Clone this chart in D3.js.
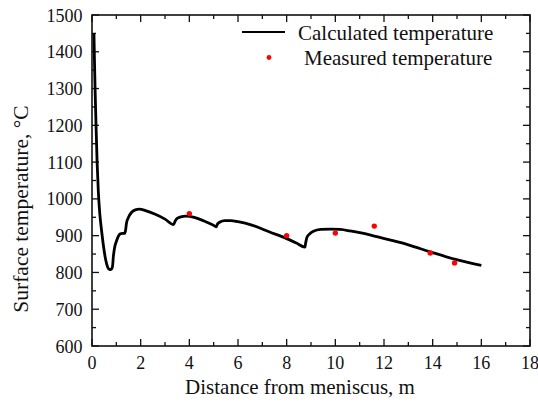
<!DOCTYPE html>
<html><head><meta charset="utf-8">
<script src="https://cdn.jsdelivr.net/npm/d3@7"></script>
<style>
body{margin:0;background:#fff;}
svg text{font-family:"Liberation Serif","Times New Roman",serif;fill:#111;}
</style></head>
<body><svg id="c" width="538" height="402"></svg>
<script>
const calcX = [0.08,0.10,0.13,0.17,0.21,0.26,0.32,0.40,0.48,0.56,0.64,0.72,0.78,0.84,0.88,0.93,1.0,1.08,1.16,1.25,1.34,1.38,1.42,1.50,1.62,1.78,1.95,2.2,2.6,3.0,3.35,3.42,3.5,3.65,3.85,4.2,4.6,5.0,5.1,5.16,5.26,5.45,5.7,6.0,6.6,7.3,8.0,8.4,8.75,8.78,8.83,8.95,9.1,9.4,9.8,10.2,10.6,11.0,11.6,12.2,13.0,13.9,14.9,16.0];
const calcT = [1450,1380,1290,1190,1100,1020,960,910,868,835,815,808,808,815,845,868,884,898,905,906,906,915,935,950,963,970,972,968,958,945,930,940,947,951,953,950,940,928,924,932,937,941,941,938,928,910,892,880,869,880,895,905,912,917,918,917,913,908,899,889,875,856,836,819];
const measX = [4.0,8.0,10.0,11.6,13.9,14.9];
const measT = [960,900,907,926,853,826];
const xTicks = [0,2,4,6,8,10,12,14,16,18];
const yTicks = [600,700,800,900,1000,1100,1200,1300,1400,1500];
const legendLabels = ["Calculated temperature","Measured temperature"];
const xTitle = "Distance from meniscus, m";
const yTitle = "Surface temperature, °C";

const L=92,R=530,T=15,B=346;
const svg=d3.select("#c");
const x=d3.scaleLinear().domain([0,18]).range([L,R]);
const y=d3.scaleLinear().domain([600,1500]).range([B,T]);

const xMinor=d3.range(1,18,2), yMinor=d3.range(650,1500,100);
const g=svg.append("g").attr("stroke","#111").attr("stroke-width",1.3);
xTicks.forEach(v=>{g.append("line").attr("x1",x(v)).attr("x2",x(v)).attr("y1",B).attr("y2",B-7);
  g.append("line").attr("x1",x(v)).attr("x2",x(v)).attr("y1",T).attr("y2",T+7);});
xMinor.forEach(v=>{g.append("line").attr("x1",x(v)).attr("x2",x(v)).attr("y1",B).attr("y2",B-4);
  g.append("line").attr("x1",x(v)).attr("x2",x(v)).attr("y1",T).attr("y2",T+4);});
yTicks.forEach(v=>{g.append("line").attr("x1",L).attr("x2",L+7).attr("y1",y(v)).attr("y2",y(v));
  g.append("line").attr("x1",R).attr("x2",R-7).attr("y1",y(v)).attr("y2",y(v));});
yMinor.forEach(v=>{g.append("line").attr("x1",L).attr("x2",L+4).attr("y1",y(v)).attr("y2",y(v));
  g.append("line").attr("x1",R).attr("x2",R-4).attr("y1",y(v)).attr("y2",y(v));});
svg.append("rect").attr("x",L).attr("y",T).attr("width",R-L).attr("height",B-T)
  .attr("fill","none").attr("stroke","#111").attr("stroke-width",1.6);

svg.selectAll(".xl").data(xTicks).enter().append("text").attr("x",d=>x(d)).attr("y",368.5)
  .attr("text-anchor","middle").attr("font-size",18).text(d=>d);
svg.selectAll(".yl").data(yTicks).enter().append("text").attr("x",82.5).attr("y",d=>y(d)+6.5)
  .attr("text-anchor","end").attr("font-size",18).text(d=>d);
svg.append("text").attr("x",300).attr("y",394).attr("text-anchor","middle").attr("font-size",21).text(xTitle);
svg.append("text").attr("transform","translate(28,209) rotate(-90)").attr("text-anchor","middle").attr("font-size",21.5).text(yTitle);

const pts=calcX.map((v,i)=>[v,calcT[i]]);
svg.append("path").attr("d",d3.line().x(d=>x(d[0])).y(d=>y(d[1])).curve(d3.curveMonotoneX)(pts))
  .attr("fill","none").attr("stroke","#000").attr("stroke-width",2.8).attr("stroke-linejoin","round");
svg.selectAll(".m").data(measX).enter().append("circle").attr("cx",d=>x(d)).attr("cy",(d,i)=>y(measT[i]))
  .attr("r",2.7).attr("fill","#ff0000");

svg.append("line").attr("x1",242).attr("x2",285).attr("y1",32).attr("y2",32).attr("stroke","#000").attr("stroke-width",2.2);
svg.append("text").attr("x",298).attr("y",40).attr("font-size",21).text(legendLabels[0]);
svg.append("circle").attr("cx",269).attr("cy",57.5).attr("r",2.4).attr("fill","#ff0000");
svg.append("text").attr("x",304).attr("y",64.5).attr("font-size",21).text(legendLabels[1]);
</script></body></html>
